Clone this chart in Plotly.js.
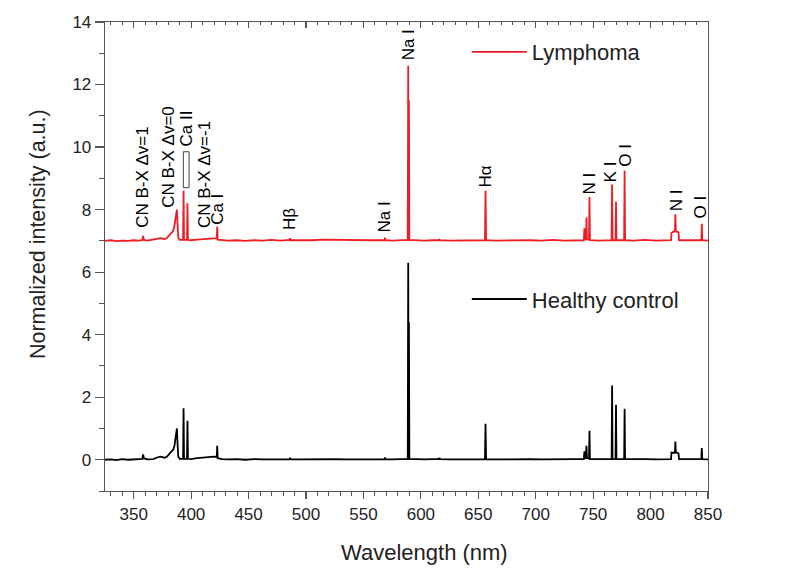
<!DOCTYPE html>
<html><head><meta charset="utf-8">
<script src="https://cdn.plot.ly/plotly-3.0.1.min.js"></script>
<style>html,body{margin:0;padding:0;background:#fff;} #chart{width:798px;height:587px;}</style>
</head><body><div id="chart"></div>
<script>
// Wavelength (nm) sample points
const wavelength = [325,330,335,340,345,350,355,357.5,358.2,358.9,362,367,371,373,375,377,379,381,383,384.5,385.5,386.3,387.1,387.6,388.2,388.8,390,
393.0,393.4,393.8,396.4,396.8,397.2,400,405,410,415,420,422.3,422.7,423.1,427,432,440,447,455,462,470,478,485.6,486.1,486.6,495,505,515,525,535,545,555,562,
568.3,568.8,569.3,575,582,588.6,589.0,589.3,589.6,590.0,595,603,610,615.8,616.2,616.6,625,635,645,655.8,656.3,656.8,665,675,685,695,705,715,725,735,
741.9,742.4,742.9,743.8,744.2,744.6,746.4,746.8,747.2,755,762,766.1,766.5,766.9,769.5,769.9,770.3,777.0,777.4,777.8,785,795,805,813,
817.8,818.2,820.0,821.2,821.6,822.0,823.5,824.3,824.8,830,836,844.2,844.6,845.0,850];

// Healthy control normalized intensity
const healthy = [0.00,0.01,-0.01,0.02,0.00,0.01,0.02,0.03,0.17,0.04,0.01,0.02,0.08,0.10,0.08,0.06,0.10,0.18,0.25,0.33,0.45,0.65,0.75,1.00,0.50,0.10,0.03,
0.03,1.65,0.03,0.03,1.25,0.03,0.02,0.05,0.07,0.10,0.10,0.09,0.45,0.05,0.02,0.01,0.02,0.00,0.02,0.01,0.02,0.01,0.02,0.06,0.02,0.01,0.02,0.01,0.02,0.01,0.02,0.01,0.02,
0.02,0.07,0.02,0.01,0.02,0.03,6.30,0.10,4.40,0.03,0.02,0.01,0.02,0.02,0.06,0.02,0.01,0.02,0.01,0.02,1.15,0.02,0.01,0.02,0.01,0.02,0.01,0.02,0.01,0.02,
0.02,0.27,0.05,0.05,0.45,0.05,0.04,0.93,0.02,0.01,0.02,0.02,2.37,0.02,0.02,1.76,0.02,0.02,1.63,0.02,0.01,0.02,0.01,0.02,
0.02,0.23,0.23,0.22,0.58,0.23,0.22,0.20,0.02,0.01,0.02,0.02,0.37,0.02,0.01];

// Lymphoma normalized intensity (offset spectrum)
const lymphoma = [7.00,7.02,6.99,7.01,7.00,7.02,7.01,7.03,7.16,7.03,7.01,7.03,7.07,7.09,7.07,7.06,7.10,7.18,7.26,7.33,7.50,7.70,7.78,8.00,7.50,7.10,7.03,
7.03,8.60,7.03,7.03,8.20,7.03,7.02,7.04,7.06,7.08,7.08,7.08,7.46,7.04,7.02,7.01,7.02,7.00,7.02,7.01,7.03,7.01,7.03,7.08,7.02,7.01,7.02,7.04,7.03,7.02,7.01,7.02,7.02,
7.02,7.10,7.02,7.01,7.02,7.03,12.60,7.10,11.50,7.03,7.02,7.01,7.02,7.02,7.06,7.02,7.01,7.02,7.01,7.02,8.60,7.02,7.01,7.02,7.01,7.02,7.01,7.03,7.01,7.02,
7.02,7.40,7.05,7.05,7.75,7.05,7.04,8.40,7.02,7.01,7.02,7.02,8.80,7.02,7.02,8.25,7.02,7.02,9.25,7.02,7.01,7.03,7.01,7.02,
7.02,7.25,7.30,7.30,7.85,7.30,7.30,7.28,7.02,7.01,7.02,7.02,7.55,7.02,7.01];

const seriesNames = ['Lymphoma', 'Healthy control'];
const xTitle = 'Wavelength (nm)';
const yTitle = 'Normalized intensity (a.u.)';

// Peak labels
const labelText = ['CN B-X Δv=1','CN B-X Δv=0','Ca II','CN B-X Δv=-1','Ca I','Hβ','Na I','Na I','Hα','N I','K I','O I','N I','O I'];
const labelWavelength = [358, 380, 396.2, 411.8, 423, 485.6, 568, 589, 656, 746.5, 765.5, 778, 822.5, 843];
const labelIntensity = [7.35, 8.0, 9.95, 7.35, 7.45, 7.3, 7.19, 12.7, 8.65, 8.42, 8.82, 9.3, 7.9, 7.67];

const FONT = 'Liberation Sans, Arial, sans-serif';
const AX = '#555';

const traces = [
  {x: wavelength, y: lymphoma, type: 'scatter', mode: 'lines', name: seriesNames[0],
   line: {color: '#ee1c24', width: 1.8}, legend: 'legend'},
  {x: wavelength, y: healthy, type: 'scatter', mode: 'lines', name: seriesNames[1],
   line: {color: '#000000', width: 1.8}, legend: 'legend2'},
  {x: [], y: [], xaxis: 'x2', yaxis: 'y', type: 'scatter', mode: 'lines', showlegend: false, hoverinfo: 'skip'}
];

const annotations = labelText.map((t, i) => ({
  x: labelWavelength[i], y: labelIntensity[i], xref: 'x', yref: 'y',
  text: t, showarrow: false, textangle: -90, xanchor: 'center', yanchor: 'bottom',
  font: {family: FONT, size: 17, color: '#000'}
}));
annotations.push({
  xref: 'paper', yref: 'paper', x: -0.111, y: 0.548, text: yTitle, showarrow: false,
  textangle: -90, xanchor: 'center', yanchor: 'middle',
  font: {family: FONT, size: 21.5, color: '#222'}
});
annotations.push({
  xref: 'paper', yref: 'paper', x: 0.53, y: -0.132, text: xTitle, showarrow: false,
  xanchor: 'center', yanchor: 'middle',
  font: {family: FONT, size: 22, color: '#222'}
});

const layout = {
  width: 798, height: 587,
  margin: {l: 105, r: 90, t: 22, b: 96},
  paper_bgcolor: '#fff', plot_bgcolor: '#fff',
  font: {family: FONT, color: '#000'},
  showlegend: true,
  xaxis: {
    range: [325, 850], tick0: 350, dtick: 50, ticks: 'outside', ticklen: 7, tickwidth: 1.2, tickcolor: AX,
    showline: true, linecolor: AX, linewidth: 1.3, mirror: true, showgrid: false, zeroline: false,
    minor: {tick0: 350, dtick: 10, ticks: 'outside', ticklen: 4, tickcolor: AX, tickwidth: 1},
    tickfont: {family: FONT, size: 17, color: '#222'}
  },
  xaxis2: {
    overlaying: 'x', side: 'top', anchor: 'y', range: [325, 850], tick0: 350, dtick: 50,
    ticks: 'inside', ticklen: 6, tickwidth: 1.2, tickcolor: AX, showticklabels: false,
    showgrid: false, zeroline: false, showline: false,
    minor: {tick0: 350, dtick: 10, ticks: 'inside', ticklen: 3, tickcolor: AX, tickwidth: 1}
  },
  yaxis: {
    range: [-1, 14], tick0: 0, dtick: 2, ticks: 'outside', ticklen: 9, tickwidth: 1.2, tickcolor: AX,
    showline: true, linecolor: AX, linewidth: 1.3, mirror: true, showgrid: false, zeroline: false,
    minor: {tick0: 0, dtick: 1, ticks: 'outside', ticklen: 5, tickcolor: AX, tickwidth: 1},
    tickfont: {family: FONT, size: 17, color: '#222'}
  },
  legend: {x: 0.600, y: 0.936, xanchor: 'left', yanchor: 'middle', bgcolor: 'rgba(0,0,0,0)',
           borderwidth: 0, itemwidth: 55, font: {family: FONT, size: 22, color: '#222'}},
  legend2: {x: 0.600, y: 0.409, xanchor: 'left', yanchor: 'middle', bgcolor: 'rgba(0,0,0,0)',
           borderwidth: 0, itemwidth: 55, font: {family: FONT, size: 22, color: '#222'}},
  shapes: [
    {type: 'rect', xref: 'x', yref: 'y', x0: 393.2, x1: 398.2, y0: 8.7, y1: 9.85,
     line: {color: '#444', width: 1}, fillcolor: 'rgba(0,0,0,0)'}
  ],
  annotations: annotations
};

Plotly.newPlot('chart', traces, layout, {displayModeBar: false, staticPlot: true});
</script>
</body></html>
